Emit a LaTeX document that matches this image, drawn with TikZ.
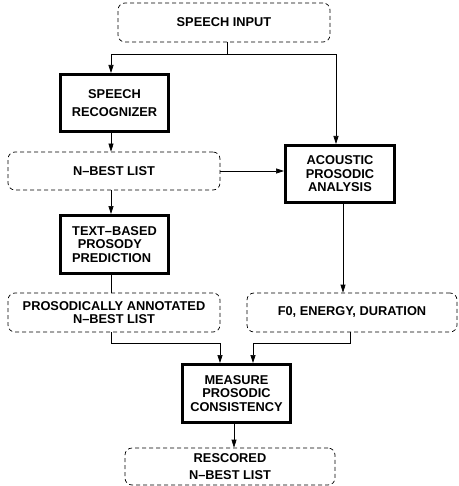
\documentclass[tikz,border=0pt]{standalone}
\usepackage{fontspec}
\setmainfont{Liberation Sans}
\usetikzlibrary{arrows.meta}
\begin{document}
\begin{tikzpicture}[x=1pt,y=-1pt,
  txt/.style={font=\fontsize{12.8}{13.5}\selectfont\bfseries, align=center, inner sep=0pt},
  dbox/.style={txt, draw, dash pattern=on 4pt off 3pt, rounded corners=7pt, line width=0.7pt},
  tbox/.style={txt, draw, line width=3pt},
  arr/.style={line width=0.7pt, -{Triangle[length=8pt,width=5pt]}},
  ln/.style={line width=0.7pt}]
\useasboundingbox (0,0) rectangle (458,486);
\node[dbox, minimum width=212pt, minimum height=39pt] (si) at (224,22.5) {SPEECH INPUT};
\node[tbox, minimum width=108pt, minimum height=57pt, font=\fontsize{12.8}{18}\selectfont\bfseries] (rec) at (114.5,103) {SPEECH\\RECOGNIZER};
\node[dbox, minimum width=212pt, minimum height=38pt] (nb) at (114,171) {N–BEST LIST};
\node[tbox, minimum width=109pt, minimum height=57pt] (ap) at (340,174) {ACOUSTIC\\PROSODIC\\ANALYSIS};
\node[tbox, minimum width=108pt, minimum height=58pt, align=left] (tb) at (114.5,244.5) {TEXT–BASED\\\ \,PROSODY\\PREDICTION};
\node[dbox, minimum width=212pt, minimum height=39pt] (pa) at (114,312.5) {PROSODICALLY ANNOTATED\\N–BEST LIST};
\node[dbox, minimum width=210pt, minimum height=39pt] (f0) at (352,312.5) {F0, ENERGY, DURATION};
\node[tbox, minimum width=108pt, minimum height=58pt] (ms) at (236.5,393.5) {MEASURE\\PROSODIC\\CONSISTENCY};
\node[dbox, minimum width=210pt, minimum height=37pt, font=\fontsize{12.8}{17}\selectfont\bfseries] (rs) at (230,466.5) {RESCORED\\N–BEST LIST};
\coordinate (j1) at (227,54);
\coordinate (j2) at (220,343);
\coordinate (j3) at (253,343);
\draw[ln] (si.south -| j1) -- (j1);
\draw[arr] (j1) -| ([xshift=-3.5pt]rec.north);
\draw[arr] (j1) -| ([xshift=-4pt]ap.north);
\draw[arr] ([xshift=-3.5pt]rec.south) -- ([xshift=-3.5pt]rec.south |- nb.north);
\draw[arr] (nb.east) -- (nb.east -| ap.west);
\draw[arr] ([xshift=-3pt]nb.south) -- ([xshift=-3pt]nb.south |- tb.north);
\draw[ln] ([xshift=-3.5pt]tb.south) -- ([xshift=-3.5pt]tb.south |- pa.north);
\draw[arr] ([xshift=3pt]ap.south) -- ([xshift=3pt]ap.south |- f0.north);
\draw[arr] ([xshift=-3pt]pa.south) |- (j2) -- (j2 |- ms.north);
\draw[arr] ([xshift=-2pt]f0.south) |- (j3) -- (j3 |- ms.north);
\draw[arr] ([xshift=-2.5pt]ms.south) -- ([xshift=-2.5pt]ms.south |- rs.north);
\end{tikzpicture}
\end{document}
